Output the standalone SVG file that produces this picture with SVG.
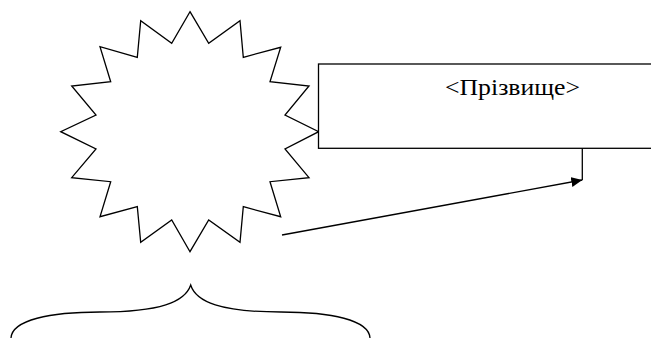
<svg xmlns="http://www.w3.org/2000/svg" width="651" height="338" viewBox="0 0 651 338">
<style>
.s{fill:#fff;stroke:#000;stroke-width:1.3;stroke-linejoin:miter}
.l{fill:none;stroke:#000;stroke-width:1.3}
.t{font-family:"Liberation Serif","Times New Roman",serif;font-size:23px;fill:#000}
</style>
<defs>
<marker id="ah" viewBox="0 0 11 10" refX="11" refY="5" markerWidth="11" markerHeight="10" markerUnits="userSpaceOnUse" orient="auto">
<path d="M0,0 L11,5 L0,10 z" fill="#000"/>
</marker>
</defs>
<rect width="651" height="338" fill="#fff"/>
<g id="star">
<polygon class="s" points="190,11.7 208.7,43.3 240,20.7 243.3,57.3 280.7,47.3 270,81.7 309,86 285,115 318.7,131.7 285,149 309,177.7 270,181.7 280.7,216.7 243.3,206.7 240,242.3 208.7,220 190,251.7 171.7,220 140.7,242.3 137.3,206.7 100,216.7 110.7,181.7 71.7,177.7 96,149 60.7,131.7 96,115 71.7,86 110.7,81.7 100,46.7 137.3,57.3 140.7,20.7 171.7,43.3"/>
</g>
<g id="box">
<rect class="s" x="318.5" y="64" width="340" height="84.3"/>
<text class="t" x="445" y="95" textLength="135" lengthAdjust="spacingAndGlyphs">&lt;Прізвище&gt;</text>
</g>
<g id="brace">
<path class="l" d="M11,338 C12,320 50,312 100,312 C160,312 185,302 190.7,285 C196,302 221,312 281,312 C331,312 369,320 370,338"/>
</g>
<g id="connectors">
<line class="l" x1="582.3" y1="148.3" x2="582.3" y2="180"/>
<line class="l" x1="282" y1="235" x2="582.3" y2="180" marker-end="url(#ah)"/>
</g>
</svg>
